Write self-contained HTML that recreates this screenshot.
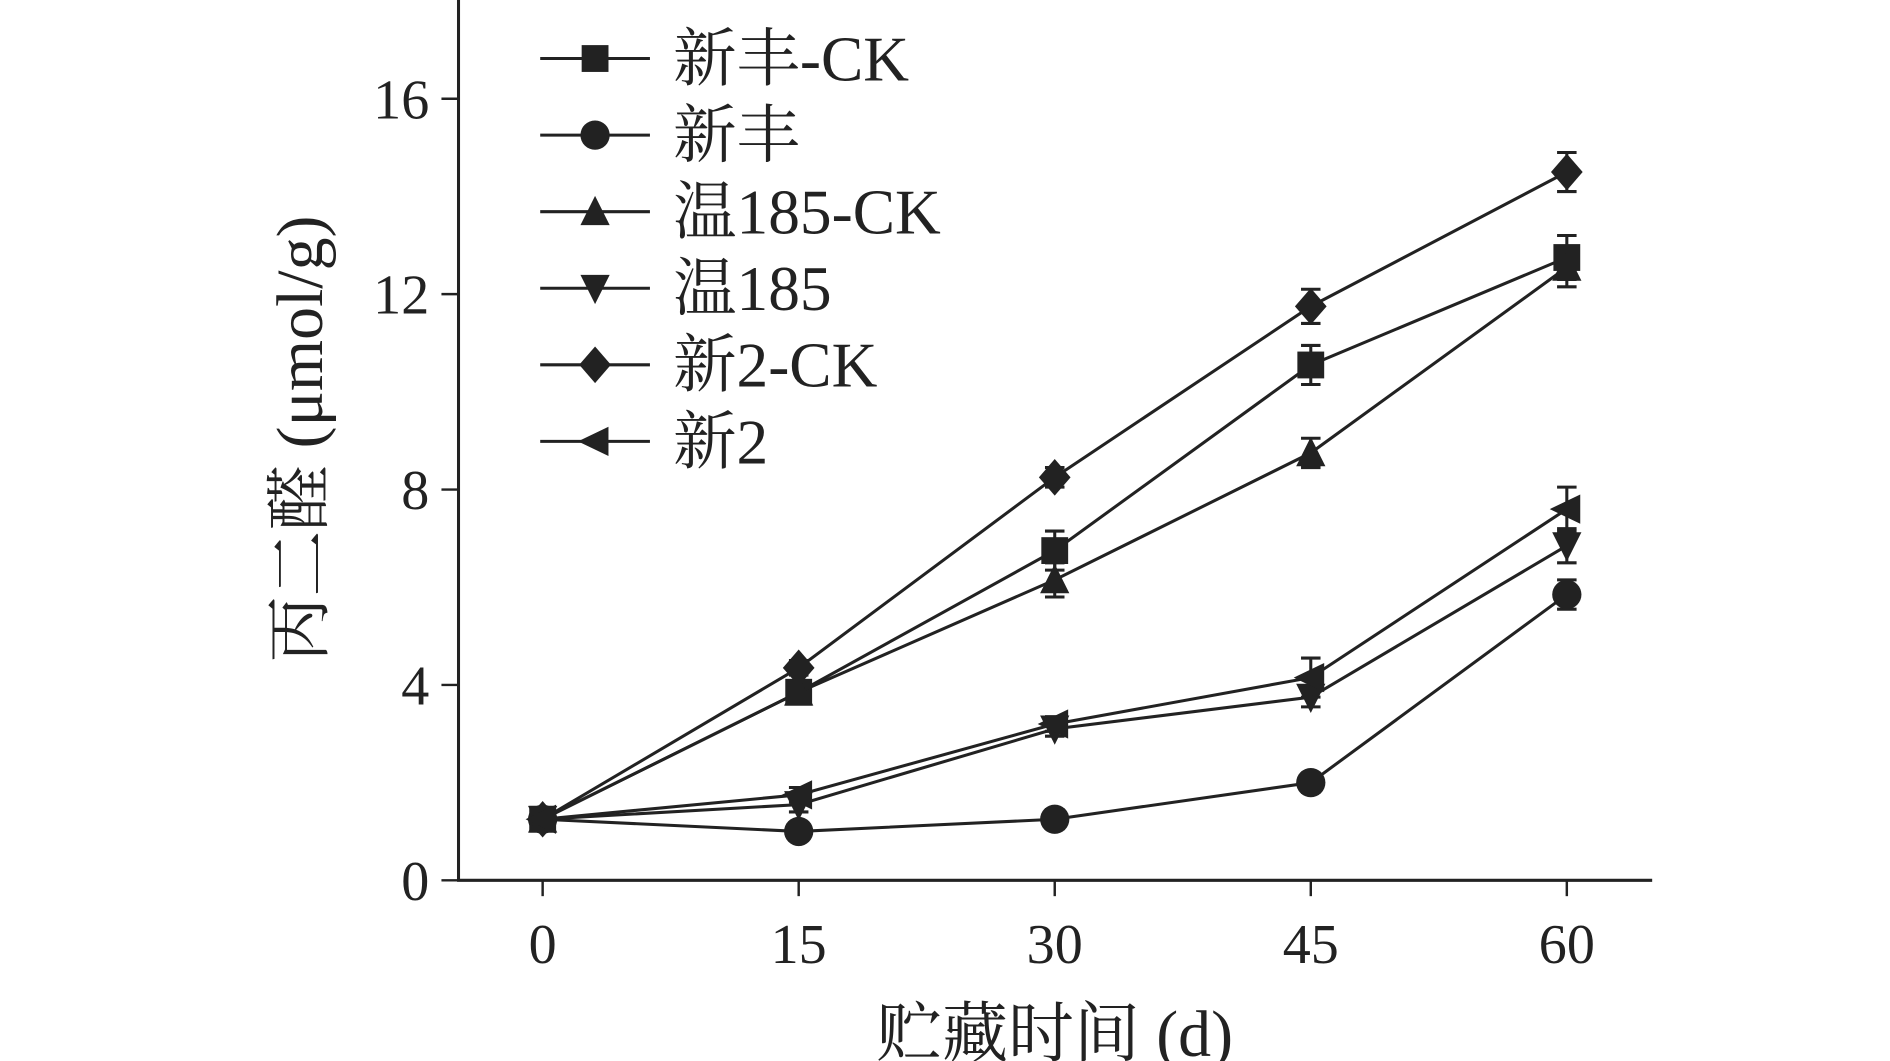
<!DOCTYPE html>
<html><head><meta charset="utf-8"><style>
html,body{margin:0;padding:0;background:#fff;width:1890px;height:1061px;overflow:hidden}
svg{display:block}
text{font-family:"Liberation Serif","Noto Serif CJK SC",serif;fill:#222}
</style></head><body>
<svg id="chart" width="1890" height="1061" viewBox="0 0 1550 870.2" xmlns="http://www.w3.org/2000/svg">
<g id="axes"></g>
<g id="series"></g>
<g id="legend"></g>
</svg>
<script>
const categories=[0,15,30,45,60];
const yTicks=[0,4,8,12,16];
const seriesNames=["新丰-CK","新丰","温185-CK","温185","新2-CK","新2"];
const markers=["square","circle","up","down","diamond","left"];
const sXinfengCK=[1.25,3.85,6.75,10.55,12.75];
const sXinfeng=[1.25,1.0,1.25,2.0,5.85];
const sWenCK=[1.25,3.85,6.15,8.75,12.55];
const sWen=[1.25,1.55,3.1,3.75,6.85];
const sXin2CK=[1.25,4.35,8.25,11.75,14.5];
const sXin2=[1.25,1.75,3.2,4.15,7.6];
const eXinfengCK=[0.1,0.2,0.4,0.4,0.45];
const eXinfeng=[0.1,0.15,0.2,0.2,0.3];
const eWenCK=[0.1,0.15,0.35,0.3,0.4];
const eWen=[0.1,0.15,0.15,0.2,0.35];
const eXin2CK=[0.1,0.15,0.2,0.35,0.4];
const eXin2=[0.1,0.15,0.15,0.4,0.45];
const allSeries=[sXinfengCK,sXinfeng,sWenCK,sWen,sXin2CK,sXin2];
const allErr=[eXinfengCK,eXinfeng,eWenCK,eWen,eXin2CK,eXin2];

const NS="http://www.w3.org/2000/svg";
const X0=445,X1=1285,Y0=722,Y16=81;
const xs=v=>X0+(v-0)/60*(X1-X0);
const ys=v=>Y0-(v/16)*(Y0-Y16);
const C="#222";
function mk(tag,attrs,parent){const e=document.createElementNS(NS,tag);for(const k in attrs)e.setAttribute(k,attrs[k]);parent.appendChild(e);return e;}
const axes=document.getElementById('axes');
let a=mk('line',{x1:376,y1:0,x2:376,y2:Y0,stroke:C,'stroke-width':2.5},axes);

a=mk('line',{x1:374.8,y1:Y0,x2:1355,y2:Y0,stroke:C,'stroke-width':2.5},axes);

yTicks.forEach(t=>{
 const l=mk('line',{x1:362,y1:ys(t),x2:376,y2:ys(t),stroke:C,'stroke-width':2},axes);
 
 const tx=mk('text',{x:352,y:ys(t)+16,'text-anchor':'end','font-size':46},axes);tx.textContent=t;
 
});
categories.forEach(c=>{
 const l=mk('line',{x1:xs(c),y1:Y0,x2:xs(c),y2:Y0+13,stroke:C,'stroke-width':2},axes);
 
 const tx=mk('text',{x:xs(c),y:790,'text-anchor':'middle','font-size':46},axes);tx.textContent=c;
 
});
let t=mk('text',{x:865,y:866,'text-anchor':'middle','font-size':54},axes);t.textContent="贮藏时间 (d)";

t=mk('text',{x:0,y:0,'text-anchor':'middle','font-size':54,transform:'translate(264,360) rotate(-90)'},axes);t.textContent="丙二醛 (μmol/g)";


function marker(type,x,y,p){
 const s=11;let e;
 if(type==='square')e=mk('rect',{x:x-s,y:y-s,width:2*s,height:2*s,fill:C},p);
 else if(type==='circle')e=mk('circle',{cx:x,cy:y,r:s+1,fill:C},p);
 else if(type==='up')e=mk('polygon',{points:`${x},${y-s-2} ${x+s+1},${y+s} ${x-s-1},${y+s}`,fill:C},p);
 else if(type==='down')e=mk('polygon',{points:`${x},${y+s+2} ${x+s+1},${y-s} ${x-s-1},${y-s}`,fill:C},p);
 else if(type==='diamond')e=mk('polygon',{points:`${x},${y-s-4} ${x+s+2},${y} ${x},${y+s+4} ${x-s-2},${y}`,fill:C},p);
 else e=mk('polygon',{points:`${x-s-3},${y} ${x+s},${y-s-1} ${x+s},${y+s+1}`,fill:C},p);
 return e;
}
const sg=document.getElementById('series');
allSeries.forEach((vals,i)=>{
 const g=mk('g',{},sg);
 
 
 const pl=mk('polyline',{points:vals.map((v,j)=>xs(categories[j])+','+ys(v)).join(' '),fill:'none',stroke:C,'stroke-width':2.5},g);
 
 vals.forEach((v,j)=>{
  const x=xs(categories[j]),er=allErr[i][j];
  const eb=mk('path',{d:`M${x},${ys(v+er)}V${ys(v-er)}M${x-8},${ys(v+er)}H${x+8}M${x-8},${ys(v-er)}H${x+8}`,stroke:C,'stroke-width':2.5,fill:'none'},g);
  
  const m=marker(markers[i],x,ys(v),g);
  
 });
});
const lg=document.getElementById('legend');
seriesNames.forEach((n,i)=>{
 const y=48+i*62.8;
 const g=mk('g',{},lg);
 
 mk('line',{x1:443,y1:y,x2:533,y2:y,stroke:C,'stroke-width':2.5},g);
 marker(markers[i],488,y,g);
 const tx=mk('text',{x:552,y:y+18,'font-size':52},g);tx.textContent=n;
});
</script>
</body></html>
